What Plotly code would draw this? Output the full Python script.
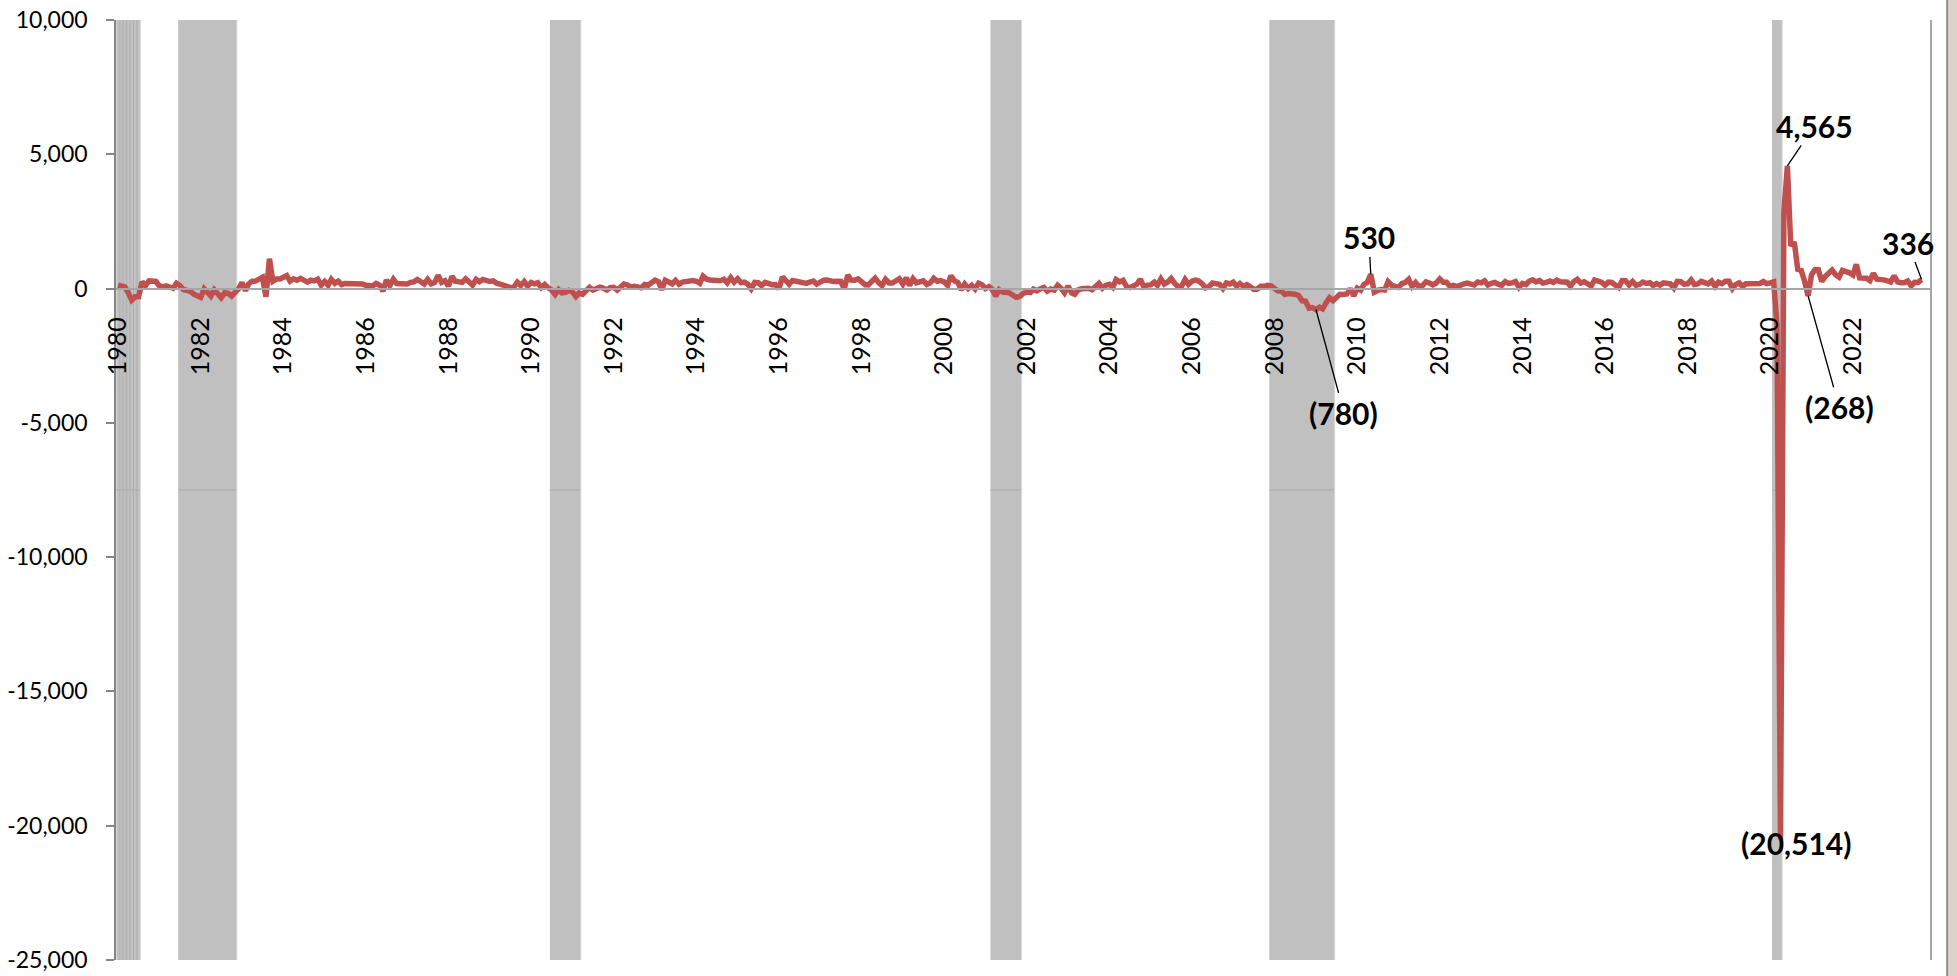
import pandas as pd
import plotly.graph_objects as go

# Monthly change in nonfarm payrolls, thousands of jobs (Jan 1980 onward)
jobs_1980s = [
    131, 87, 64, -157, -431, -306, -303, 251, 113, 283, 255, 264,        # 1980
    95, 67, 104, 74, 10, 196, 112, -36, -87, -100, -209, -278,           # 1981
    -327, -6, -129, -281, -45, -243, -343, -158, -181, -277, -124, -14,  # 1982
    225, -78, 173, 276, 277, 378, 418, -308, 1114, 271, 353, 356,        # 1983
    446, 481, 275, 363, 308, 379, 313, 242, 310, 286, 349, 128,          # 1984
    266, 125, 346, 195, 274, 146, 189, 193, 204, 187, 209, 167,          # 1985
    125, 107, 94, 187, 126, -94, 318, 114, 347, 186, 186, 205,           # 1986
    172, 232, 249, 338, 226, 172, 346, 171, 228, 492, 233, 292,          # 1987
    93, 453, 272, 245, 229, 363, 222, 126, 341, 259, 340, 290,           # 1988
    263, 288, 199, 166, 116, 117, 39, 54, 238, 116, 262, 91,             # 1989
]
jobs_1990s = [
    225, 174, 213, 35, 150, 30, -52, -219, -40, -161, -141, -66,         # 1990
    -123, -295, -162, -210, -102, 46, -54, -16, 52, 21, -56, 32,         # 1991
    47, -58, 74, 170, 134, 53, 82, 74, 31, 149, 123, 222,                # 1992
    310, 249, -44, 309, 266, 178, 303, 163, 239, 275, 263, 303,          # 1993
    274, 194, 460, 349, 322, 314, 305, 290, 346, 211, 404, 239,          # 1994
    366, 221, 243, 164, -11, 228, 216, 115, 230, 163, 146, 152,          # 1995
    -11, 433, 282, 162, 301, 267, 211, 180, 194, 245, 283, 167,          # 1996
    238, 313, 318, 272, 261, 268, 264, -7, 500, 312, 306, 358,           # 1997
    252, 144, 138, 284, 389, 223, 108, 345, 209, 204, 271, 366,          # 1998
    167, 402, 111, 367, 216, 271, 289, 152, 214, 383, 271, 299,          # 1999
]
jobs_2000s = [
    248, 118, 478, 289, 223, -45, 166, 5, 122, -13, 201, 145,            # 2000
    -1, 71, -28, -280, -43, -129, -125, -160, -246, -326, -293, -175,    # 2001
    -131, -147, -23, -84, -8, 40, -100, -16, -55, 122, 8, -158,          # 2002
    92, -159, -213, -47, -6, -2, 14, -43, 108, 196, 13, 119,             # 2003
    161, 45, 333, 249, 307, 75, 35, 121, 162, 350, 65, 129,              # 2004
    138, 238, 124, 362, 171, 245, 373, 194, 67, 84, 337, 159,            # 2005
    277, 315, 280, 182, 23, 77, 207, 184, 157, 2, 210, 171,              # 2006
    238, 88, 188, 78, 144, 71, -33, -16, 85, 82, 118, 97,                # 2007
    15, -86, -80, -214, -182, -172, -210, -259, -452, -474, -727, -706,  # 2008
    -780, -697, -758, -528, -345, -452, -297, -213, -220, -204, -2, -275,  # 2009
]
jobs_2010s = [
    14, -59, 153, 232, 530, -132, -70, -34, -52, 257, 123, 88,           # 2010
    42, 188, 225, 346, 77, 225, 69, 110, 248, 209, 141, 209,             # 2011
    358, 237, 233, 78, 115, 76, 143, 177, 203, 146, 132, 244,            # 2012
    211, 286, 130, 197, 226, 162, 122, 261, 190, 212, 258, 47,           # 2013
    190, 151, 272, 329, 246, 304, 202, 230, 280, 227, 312, 255,          # 2014
    234, 238, 86, 262, 344, 206, 254, 157, 100, 321, 272, 239,           # 2015
    126, 237, 225, 153, 43, 297, 291, 135, 265, 124, 155, 243,           # 2016
    190, 221, 119, 187, 127, 213, 179, 180, 18, 264, 256, 164,           # 2017
    176, 324, 155, 175, 268, 235, 173, 279, 83, 237, 181, 269,           # 2018
    269, 1, 147, 210, 85, 182, 194, 207, 208, 185, 261, 184,             # 2019
]
jobs_2020s = [
    214, 251, -1373, -20514, 2833, 4565, 1585, 1726, 716, 680, 263, -268,  # 2020
    520, 710, 704, 263, 447, 557, 689, 517, 424, 677, 647, 588,            # 2021
    504, 904, 398, 368, 386, 293, 568, 352, 350, 324, 290, 239,            # 2022
    472, 248, 217, 217, 281, 105, 236, 227, 336,                           # 2023
]

# NBER recessions, first and last month
recession_start = ["1980-01", "1981-07", "1990-07", "2001-03", "2007-12", "2020-02"]
recession_end = ["1980-07", "1982-11", "1991-03", "2001-11", "2009-06", "2020-04"]

# Highlighted readings: (month, text offset in px)
callout_month = ["2009-01", "2010-05", "2020-06", "2020-12", "2023-09"]
callout_ax = [28, -2, 27, 31, -14]
callout_ay = [103, -37, -40, 111, -37]

y_ticks = [10000, 5000, 0, -5000, -10000, -15000, -20000, -25000]
y_tick_text = ["10,000", "5,000", "0", "-5,000", "-10,000", "-15,000", "-20,000", "-25,000"]
x_tick_years = list(range(1980, 2024, 2))

values = jobs_1980s + jobs_1990s + jobs_2000s + jobs_2010s + jobs_2020s
months = pd.date_range("1980-01-01", periods=len(values), freq="MS")
series = pd.Series(values, index=months)

Y_MIN, Y_MAX = -25000, 10000
HALF_MONTH = pd.Timedelta(days=15.2)

fig = go.Figure()

# recession bands (monthly columns, centred on each month)
shapes = []
for s, e in zip(recession_start, recession_end):
    x0 = pd.Timestamp(s + "-01") - HALF_MONTH
    x1 = pd.Timestamp(e + "-01") + HALF_MONTH
    shapes.append(dict(type="rect", xref="x", yref="y", x0=x0, x1=x1, y0=Y_MIN, y1=Y_MAX,
                       fillcolor="#c0c0c0", line=dict(width=0), layer="below"))
    shapes.append(dict(type="line", xref="x", yref="y", x0=x0, x1=x1,
                       y0=(Y_MIN + Y_MAX) / 2, y1=(Y_MIN + Y_MAX) / 2,
                       line=dict(color="#a9a9a9", width=1), layer="below"))
    shapes.append(dict(type="line", xref="x", yref="y", x0=x1, x1=x1, y0=Y_MIN, y1=Y_MAX,
                       line=dict(color="#dadada", width=1), layer="below"))

# the narrow 1980 columns keep their visible borders
for m in pd.date_range(recession_start[0] + "-01", recession_end[0] + "-01", freq="MS")[1:]:
    xb = m - HALF_MONTH
    shapes.append(dict(type="line", xref="x", yref="y", x0=xb, x1=xb, y0=Y_MIN, y1=Y_MAX,
                       line=dict(color="#b0b0b0", width=1), layer="below"))

# right-hand frame line and neighbouring window edge
shapes.append(dict(type="line", xref="paper", yref="paper", x0=1, x1=1, y0=0, y1=1,
                   line=dict(color="#a6a6a6", width=2)))
shapes.append(dict(type="rect", xref="paper", yref="paper", x0=1.0089, x1=1.02, y0=-0.02, y1=1.03,
                   fillcolor="#dbd4ca", line=dict(width=0)))
shapes.append(dict(type="line", xref="paper", yref="paper", x0=1.0089, x1=1.0089, y0=-0.02, y1=1.03,
                   line=dict(color="#8f8f8f", width=2)))

fig.add_trace(go.Scatter(
    x=series.index, y=series.values, mode="lines",
    line=dict(color="#c0504d", width=5.5, shape="linear"),
    hoverinfo="skip", showlegend=False,
))


def fmt(v):
    return f"({abs(v):,})" if v < 0 else f"{v:,}"


annotations = []
for m, ax, ay in zip(callout_month, callout_ax, callout_ay):
    t = pd.Timestamp(m + "-01")
    v = series[t]
    annotations.append(dict(
        x=t, y=v, xref="x", yref="y", text=fmt(v), showarrow=True,
        ax=ax, ay=ay, arrowhead=0, arrowwidth=1.3, arrowcolor="#000000", borderpad=1,
        font=dict(family="Lato", size=30, color="#000000", weight="bold"),
    ))

# the April 2020 trough is labelled over the spike itself
trough = series.idxmin()
annotations.append(dict(
    x=trough, y=series[trough], xref="x", yref="y", text=fmt(series[trough]),
    showarrow=False, xshift=16, yshift=-3,
    font=dict(family="Lato", size=30, color="#000000", weight="bold"),
))

fig.update_layout(
    width=1957, height=976,
    margin=dict(l=116, r=26, t=20, b=16, autoexpand=False),
    paper_bgcolor="#ffffff", plot_bgcolor="#ffffff",
    shapes=shapes, annotations=annotations,
    font=dict(family="Lato", color="#000000"),
    xaxis=dict(
        type="date", automargin=False,
        range=["1979-12-14", "2023-11-23"],
        anchor="free", position=(0 - Y_MIN) / (Y_MAX - Y_MIN),
        showline=True, linecolor="#a6a6a6", linewidth=1.5,
        showgrid=False, zeroline=False, ticks="",
        tickvals=[pd.Timestamp(f"{y}-01-01") for y in x_tick_years],
        ticktext=[str(y) for y in x_tick_years],
        tickangle=-90, ticklabelstandoff=18,
        tickfont=dict(family="Lato", size=25, color="#000000"),
    ),
    yaxis=dict(
        range=[Y_MIN, Y_MAX], automargin=False,
        showline=True, linecolor="#868686", linewidth=1.5,
        showgrid=False, zeroline=False,
        ticks="outside", ticklen=8, tickcolor="#868686", tickwidth=1.5,
        tickvals=y_ticks, ticktext=y_tick_text, ticklabelstandoff=14,
        tickfont=dict(family="Lato", size=23, color="#000000"),
    ),
)

fig.write_html("out.html")
